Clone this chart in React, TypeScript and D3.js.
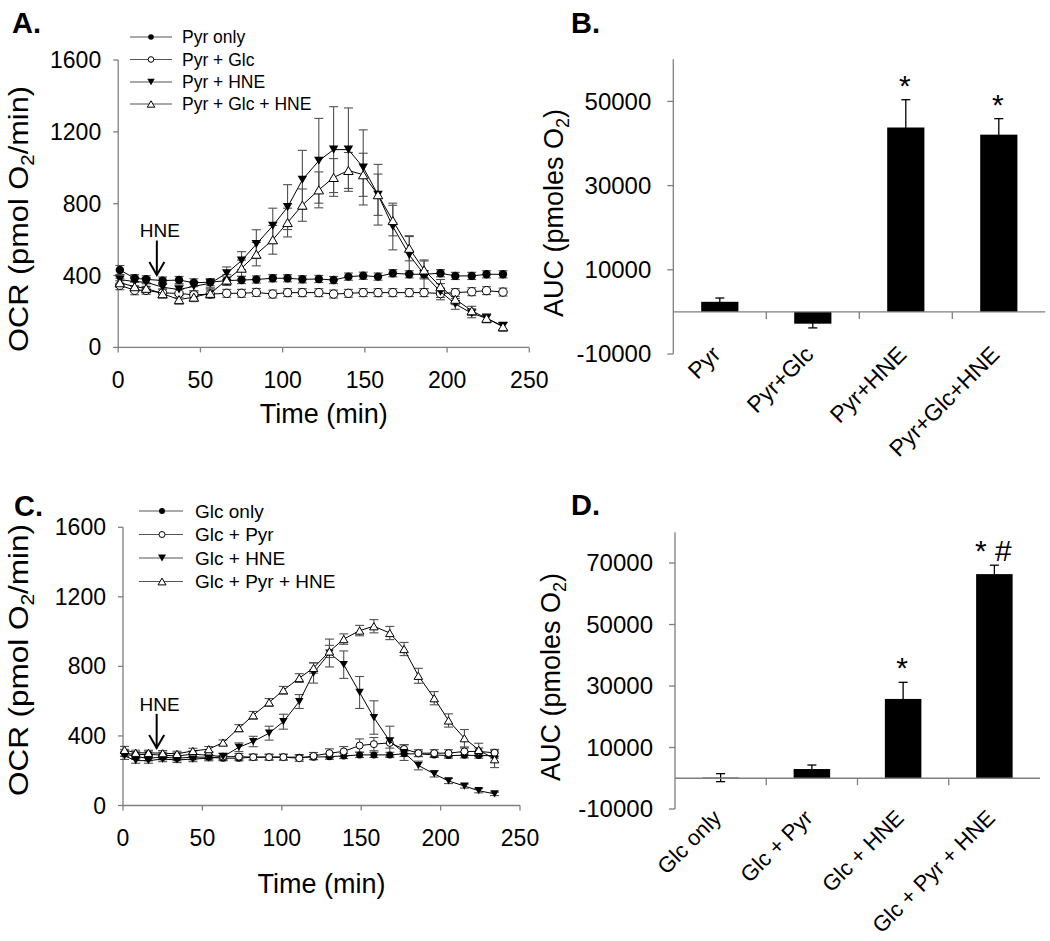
import React from 'react';
import * as d3 from 'd3';

const FONT = "'Liberation Sans', Arial, Helvetica, sans-serif";

// ---------- Panel A data ----------
const timesA = [1, 10, 17, 27, 37, 46, 56, 66, 75, 84, 94, 103, 112, 122, 131, 140, 149, 158, 167, 177, 186, 196, 205, 215, 224, 234];
const pyrOnly = [431, 385, 379, 372, 375, 360, 363, 372, 375, 378, 385, 385, 379, 381, 375, 394, 399, 394, 413, 407, 407, 413, 398, 398, 407, 407];
const pyrOnlyErr = [25, 20, 20, 20, 20, 22, 20, 20, 20, 20, 20, 20, 20, 20, 20, 20, 20, 20, 20, 20, 20, 20, 20, 20, 20, 20];
const pyrGlc = [346, 318, 318, 303, 301, 292, 297, 301, 301, 306, 297, 305, 305, 305, 297, 301, 305, 305, 305, 305, 305, 300, 305, 310, 316, 308];
const pyrGlcErr = [25, 25, 22, 22, 22, 22, 22, 22, 22, 22, 22, 22, 22, 22, 22, 22, 22, 22, 22, 22, 22, 22, 22, 22, 22, 22];
const pyrHne = [378, 366, 363, 335, 322, 340, 357, 413, 483, 575, 677, 781, 933, 1039, 1101, 1101, 1002, 850, 673, 515, 407, 310, 242, 190, 162, 119];
const pyrHneErr = [25, 25, 25, 25, 25, 25, 25, 35, 50, 80, 98, 125, 164, 236, 239, 232, 209, 169, 130, 102, 80, 45, 30, 25, 20, 20];
const pyrGlcHne = [360, 338, 329, 299, 266, 280, 301, 375, 441, 519, 599, 695, 792, 877, 946, 985, 961, 850, 706, 552, 431, 338, 268, 204, 162, 115];
const pyrGlcHneErr = [25, 25, 25, 25, 25, 25, 25, 30, 45, 65, 80, 80, 90, 100, 105, 100, 120, 115, 85, 70, 50, 40, 30, 25, 25, 25];
const legendA = ['Pyr only', 'Pyr + Glc', 'Pyr + HNE', 'Pyr + Glc + HNE'];

// ---------- Panel C data ----------
const timesC = [1, 8, 16, 25, 34, 44, 54, 63, 73, 82, 92, 101, 111, 120, 130, 139, 149, 158, 168, 177, 186, 196, 205, 215, 224, 234];
const glcOnly = [297, 281, 272, 278, 272, 278, 278, 272, 272, 278, 278, 278, 278, 278, 281, 285, 291, 291, 291, 297, 297, 291, 287, 289, 287, 287];
const glcOnlyErr = [15, 15, 15, 15, 15, 15, 15, 15, 15, 15, 15, 15, 15, 15, 15, 15, 15, 15, 15, 15, 15, 15, 15, 15, 15, 15];
const glcPyr = [303, 291, 295, 289, 285, 295, 289, 281, 281, 278, 278, 278, 272, 285, 301, 311, 345, 353, 360, 325, 301, 301, 301, 311, 311, 303];
const glcPyrErr = [20, 18, 18, 18, 18, 18, 18, 18, 18, 18, 18, 18, 18, 20, 25, 28, 38, 38, 30, 25, 20, 20, 20, 20, 20, 20];
const glcHne = [285, 258, 258, 267, 262, 267, 272, 281, 335, 368, 416, 482, 598, 762, 877, 810, 650, 506, 370, 304, 230, 182, 141, 112, 85, 67];
const glcHneErr = [20, 15, 15, 15, 15, 15, 15, 20, 25, 30, 40, 43, 40, 58, 80, 79, 92, 96, 86, 45, 25, 18, 15, 12, 12, 10];
const glcPyrHne = [320, 303, 303, 301, 297, 314, 324, 362, 445, 519, 593, 663, 733, 791, 886, 957, 1006, 1031, 992, 900, 746, 617, 489, 387, 320, 266];
const glcPyrHneErr = [20, 15, 15, 15, 15, 15, 15, 15, 20, 22, 22, 22, 25, 30, 35, 30, 30, 38, 38, 38, 43, 38, 38, 50, 38, 48];
const legendC = ['Glc only', 'Glc + Pyr', 'Glc + HNE', 'Glc + Pyr + HNE'];

const ocrTicks = [0, 400, 800, 1200, 1600];
const timeTicks = [0, 50, 100, 150, 200, 250];

// ---------- Panel B data ----------
const catsB = ['Pyr', 'Pyr+Glc', 'Pyr+HNE', 'Pyr+Glc+HNE'];
const aucB = [2400, -2800, 43800, 42100];
const aucBErr = [900, 1000, 6600, 3800];
const sigB = ['', '', '*', '*'];
const ticksB = [-10000, 10000, 30000, 50000];

// ---------- Panel D data ----------
const catsD = ['Glc only', 'Glc + Pyr', 'Glc + HNE', 'Glc + Pyr + HNE'];
const aucD = [200, 3000, 25800, 66400];
const aucDErr = [1300, 1300, 5400, 2900];
const sigD = ['', '', '*', '* #'];
const ticksD = [-10000, 10000, 30000, 50000, 70000];

const MARKERS = ['fc', 'oc', 'fd', 'ou'];
const AXIS = '#7f7f7f';
const ERR = '#505050';

function Marker({ type, cx, cy, r, t }: { type: string; cx: number; cy: number; r: number; t: number }) {
  if (type === 'fc') return <circle cx={cx} cy={cy} r={r} fill="#000" />;
  if (type === 'oc') return <circle cx={cx} cy={cy} r={r} fill="#fff" stroke="#000" strokeWidth={1} />;
  const w = t, h = t * 0.85;
  if (type === 'fd')
    return <path d={`M${cx - w / 2},${cy - h / 2}L${cx + w / 2},${cy - h / 2}L${cx},${cy + h / 2}Z`} fill="#000" />;
  return (
    <path d={`M${cx - w / 2},${cy + h / 2}L${cx + w / 2},${cy + h / 2}L${cx},${cy - h / 2}Z`} fill="#fff" stroke="#000" strokeWidth={1} />
  );
}

type LineCfg = {
  label: string;
  labelPos: [number, number];
  times: number[];
  series: number[][];
  errors: number[][];
  names: string[];
  xr: [number, number];
  yr: [number, number];
  legend: { x1: number; x2: number; mx: number; tx: number; ys: number[]; fs: number; mr: number; mt: number };
  mr: number;
  mt: number;
  hne: { t: number; textV: number; topV: number; tipV: number };
  yLabel: [number, number];
  yLabelLen: number;
  xLabelY: number;
};

function LinePanel({ c }: { c: LineCfg }) {
  const x = d3.scaleLinear().domain([0, 250]).range(c.xr);
  const y = d3.scaleLinear().domain([0, 1600]).range(c.yr);
  const line = d3
    .line<number>()
    .x((_, i) => x(c.times[i]))
    .y((d) => y(d));
  const ax = x(0), ay = y(0);
  const hx = x(c.hne.t);
  return (
    <g fontFamily={FONT}>
      <text x={c.labelPos[0]} y={c.labelPos[1]} fontSize={29} fontWeight="bold">{c.label}</text>
      {/* axes */}
      <line x1={ax} x2={ax} y1={y(0)} y2={y(1600)} stroke={AXIS} strokeWidth={1.3} />
      <line x1={x(0)} x2={x(250)} y1={ay} y2={ay} stroke={AXIS} strokeWidth={1.3} />
      {ocrTicks.map((t) => (
        <g key={'y' + t}>
          <line x1={ax - 5} x2={ax} y1={y(t)} y2={y(t)} stroke={AXIS} strokeWidth={1.3} />
          <text x={ax - 17} y={y(t)} dy="0.35em" textAnchor="end" fontSize={23}>{t}</text>
        </g>
      ))}
      {timeTicks.map((t) => (
        <g key={'x' + t}>
          <line x1={x(t)} x2={x(t)} y1={ay} y2={ay + 5} stroke={AXIS} strokeWidth={1.3} />
          <text x={x(t)} y={ay + 40.5} textAnchor="middle" fontSize={23}>{t}</text>
        </g>
      ))}
      <text x={(x(0) + x(250)) / 2} y={c.xLabelY} textAnchor="middle" fontSize={27}>Time (min)</text>
      <text
        transform={`translate(${c.yLabel[0]},${c.yLabel[1]}) rotate(-90)`}
        textAnchor="middle"
        fontSize={27}
        textLength={c.yLabelLen}
        lengthAdjust="spacingAndGlyphs"
      >
        <tspan>OCR (pmol O</tspan>
        <tspan fontSize={18} dy={6}>2</tspan>
        <tspan dy={-6}>/min)</tspan>
      </text>
      {/* error bars */}
      {c.series.map((s, si) =>
        s.map((v, i) => {
          const e = c.errors[si][i];
          const px = x(c.times[i]);
          return (
            <g key={`e${si}-${i}`} stroke={ERR} strokeWidth={1.1}>
              <line x1={px} x2={px} y1={y(v - e)} y2={y(v + e)} />
              <line x1={px - 4.5} x2={px + 4.5} y1={y(v - e)} y2={y(v - e)} />
              <line x1={px - 4.5} x2={px + 4.5} y1={y(v + e)} y2={y(v + e)} />
            </g>
          );
        })
      )}
      {c.series.map((s, si) => (
        <g key={'s' + si}>
          <path d={line(s) || ''} fill="none" stroke="#000" strokeWidth={1} />
          {s.map((v, i) => (
            <Marker key={i} type={MARKERS[si]} cx={x(c.times[i])} cy={y(v)} r={c.mr} t={c.mt} />
          ))}
        </g>
      ))}
      {/* HNE annotation */}
      <text x={hx + 3} y={y(c.hne.textV)} textAnchor="middle" fontSize={19}>HNE</text>
      <line x1={hx} x2={hx} y1={y(c.hne.topV)} y2={y(c.hne.tipV)} stroke="#000" strokeWidth={2} />
      <path
        d={`M${hx - 7.5},${y(c.hne.tipV) - 13}L${hx},${y(c.hne.tipV)}L${hx + 7.5},${y(c.hne.tipV) - 13}`}
        fill="none"
        stroke="#000"
        strokeWidth={2}
      />
      {/* legend */}
      {c.names.map((n, i) => {
        const ly = c.legend.ys[i];
        return (
          <g key={'l' + i}>
            <line x1={c.legend.x1} x2={c.legend.x2} y1={ly} y2={ly} stroke="#555" strokeWidth={1.2} />
            <Marker type={MARKERS[i]} cx={c.legend.mx} cy={ly} r={c.legend.mr} t={c.legend.mt} />
            <text x={c.legend.tx} y={ly} dy="0.36em" fontSize={c.legend.fs}>{n}</text>
          </g>
        );
      })}
    </g>
  );
}

type BarCfg = {
  label: string;
  labelPos: [number, number];
  cats: string[];
  values: number[];
  errors: number[];
  sig: string[];
  ticks: number[];
  domain: [number, number];
  xr: [number, number];
  yr: [number, number];
  yLabel: [number, number];
  sigFs: number;
  catFs: number;
  catDy: number;
};

function BarPanel({ c }: { c: BarCfg }) {
  const x = d3.scaleBand<string>().domain(c.cats).range(c.xr);
  const y = d3.scaleLinear().domain(c.domain).range(c.yr);
  const bw = x.bandwidth() * 0.4;
  const ax = c.xr[0];
  const z = y(0);
  return (
    <g fontFamily={FONT}>
      <text x={c.labelPos[0]} y={c.labelPos[1]} fontSize={29} fontWeight="bold">{c.label}</text>
      {c.cats.map((k, i) => {
        const cx = (x(k) as number) + x.bandwidth() / 2;
        const v = c.values[i];
        const e = c.errors[i];
        return (
          <g key={k}>
            <rect x={cx - bw / 2} width={bw} y={Math.min(y(v), z)} height={Math.max(Math.abs(y(v) - z), 0.6)} fill="#000" />
            <g stroke="#000" strokeWidth={1.3}>
              <line x1={cx} x2={cx} y1={y(v - e)} y2={y(v + e)} />
              <line x1={cx - 4.5} x2={cx + 4.5} y1={y(v - e)} y2={y(v - e)} />
              <line x1={cx - 4.5} x2={cx + 4.5} y1={y(v + e)} y2={y(v + e)} />
            </g>
            {c.sig[i] && (
              <text x={cx - 1} y={y(v + e) - 4} textAnchor="middle" fontSize={c.sigFs}>{c.sig[i]}</text>
            )}
            <text
              transform={`translate(${cx + 2},${z + c.catDy}) rotate(-45)`}
              textAnchor="end"
              fontSize={c.catFs}
            >
              {k}
            </text>
          </g>
        );
      })}
      <line x1={ax} x2={ax} y1={c.yr[0]} y2={c.yr[1]} stroke={AXIS} strokeWidth={1.3} />
      <line x1={c.xr[0]} x2={c.xr[1]} y1={z} y2={z} stroke={AXIS} strokeWidth={1.3} />
      {c.cats.slice(1).map((k) => (
        <line key={'t' + k} x1={x(k) as number} x2={x(k) as number} y1={z} y2={z + 7} stroke={AXIS} strokeWidth={1.3} />
      ))}
      {c.ticks.map((t) => (
        <g key={'y' + t}>
          <line x1={ax - 6} x2={ax} y1={y(t)} y2={y(t)} stroke={AXIS} strokeWidth={1.3} />
          <text x={ax - 22} y={y(t)} dy="0.35em" textAnchor="end" fontSize={24}>{t}</text>
        </g>
      ))}
      <text transform={`translate(${c.yLabel[0]},${c.yLabel[1]}) rotate(-90)`} textAnchor="middle" fontSize={27}>
        <tspan>AUC (pmoles O</tspan>
        <tspan fontSize={18} dy={6}>2</tspan>
        <tspan dy={-6}>)</tspan>
      </text>
    </g>
  );
}

const cfgA: LineCfg = {
  label: 'A.',
  labelPos: [12, 33],
  times: timesA,
  series: [pyrOnly, pyrGlc, pyrHne, pyrGlcHne],
  errors: [pyrOnlyErr, pyrGlcErr, pyrHneErr, pyrGlcHneErr],
  names: legendA,
  xr: [118.2, 529.3],
  yr: [347.4, 60],
  legend: { x1: 130, x2: 172, mx: 151, tx: 182, ys: [37, 59.5, 82, 104], fs: 17.5, mr: 2.8, mt: 7.5 },
  mr: 4.2,
  mt: 9.5,
  hne: { t: 23.5, textV: 612, topV: 595, tipV: 403 },
  yLabel: [28, 219],
  yLabelLen: 266,
  xLabelY: 423,
};

const cfgC: LineCfg = {
  label: 'C.',
  labelPos: [14, 516],
  times: timesC,
  series: [glcOnly, glcPyr, glcHne, glcPyrHne],
  errors: [glcOnlyErr, glcPyrErr, glcHneErr, glcPyrHneErr],
  names: legendC,
  xr: [123, 520],
  yr: [805.5, 527.3],
  legend: { x1: 139, x2: 183, mx: 162, tx: 195, ys: [511, 534.5, 558, 581.5], fs: 19, mr: 3, mt: 8 },
  mr: 3.5,
  mt: 8.5,
  hne: { t: 21.2, textV: 541, topV: 527, tipV: 330 },
  yLabel: [28, 660],
  yLabelLen: 272,
  xLabelY: 893,
};

const cfgB: BarCfg = {
  label: 'B.',
  labelPos: [571, 33],
  cats: catsB,
  values: aucB,
  errors: aucBErr,
  sig: sigB,
  ticks: ticksB,
  domain: [-10000, 60000],
  xr: [673.3, 1045.3],
  yr: [354, 59.3],
  yLabel: [563, 213],
  sigFs: 30,
  catFs: 23,
  catDy: 44,
};

const cfgD: BarCfg = {
  label: 'D.',
  labelPos: [571, 515],
  cats: catsD,
  values: aucD,
  errors: aucDErr,
  sig: sigD,
  ticks: ticksD,
  domain: [-10000, 80000],
  xr: [675, 1040],
  yr: [809, 532.3],
  yLabel: [560, 677],
  sigFs: 30,
  catFs: 22,
  catDy: 41,
};

export default function App() {
  return (
    <svg
      width={1050}
      height={941}
      viewBox="0 0 1050 941"
      style={{ position: 'absolute', left: 0, top: 0, background: '#fff' }}
    >
      <rect width={1050} height={941} fill="#fff" />
      <LinePanel c={cfgA} />
      <LinePanel c={cfgC} />
      <BarPanel c={cfgB} />
      <BarPanel c={cfgD} />
    </svg>
  );
}
